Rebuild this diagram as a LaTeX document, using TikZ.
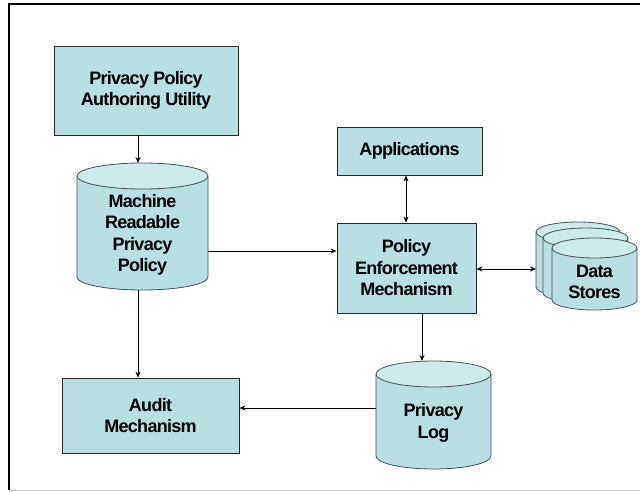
\documentclass[tikz,border=0pt]{standalone}
\usepackage{fontspec}
\setmainfont{Liberation Sans}[LetterSpace=-4]
\usetikzlibrary{arrows.meta}
\definecolor{boxfill}{RGB}{185,223,227}
\definecolor{topfill}{RGB}{205,234,237}
\definecolor{cylline}{RGB}{70,80,82}
\newcommand\drawcyl[5]{% cx, top ellipse centre y, bottom arc centre y, rx, ry
  \fill[boxfill] (#1-#4,#2) -- (#1-#4,#3) arc[start angle=180,end angle=360,x radius=#4pt,y radius=#5pt] -- (#1+#4,#2) -- cycle;
  \draw[cylline,line width=0.8pt] (#1-#4,#2) -- (#1-#4,#3) arc[start angle=180,end angle=360,x radius=#4pt,y radius=#5pt] -- (#1+#4,#2);
  \filldraw[fill=topfill,draw=cylline,line width=0.8pt] (#1,#2) ellipse[x radius=#4pt,y radius=#5pt];
}
\begin{document}
\begin{tikzpicture}[x=1pt,y=-1pt,
  lbl/.style={font=\fontsize{18}{21.5}\selectfont\bfseries,align=center,inner sep=0pt},
  box/.style={lbl,draw=black!85,fill=boxfill,line width=0.8pt},
  area/.style={inner sep=0pt,outer sep=0pt},
  arr/.style={line width=0.8pt,-{Stealth[length=6pt,width=5pt]}},
  darr/.style={line width=0.8pt,{Stealth[length=6pt,width=5pt]}-{Stealth[length=6pt,width=5pt]}}]
\useasboundingbox (0,0) rectangle (640,491);
\fill[white] (0,0) rectangle (640,491);
% frame
\draw[black!20,line width=0.8pt] (9,490) -- (640,490);
\draw[line width=1.3pt] (640,4) -- (9,4) -- (9,490);

% boxes
\node[box,minimum width=184pt,minimum height=89pt] (ppau) at (146,90.5) {Privacy Policy\\Authoring Utility};
\node[box,minimum width=145pt,minimum height=48pt] (app) at (409.5,151) {Applications};
\node[box,minimum width=139pt,minimum height=90pt] (pem) at (406.5,268) {Policy\\Enforcement\\Mechanism};
\node[box,minimum width=177pt,minimum height=75pt] (audit) at (150.5,415.5) {Audit\\Mechanism};

% cylinders
\drawcyl{142.5}{176}{277}{65.5}{13}
\node[area,minimum width=131pt,minimum height=127pt] (mrpp) at (142.5,226.5) {};
\node[lbl] (mrppt) at (142.5,235) {Machine\\Readable\\Privacy\\Policy};

\drawcyl{433.5}{374}{456}{57.5}{13}
\node[area,minimum width=115pt,minimum height=108pt] (log) at (433.5,415) {};
\node[lbl] (logt) at (433.5,423) {Privacy\\Log};

\drawcyl{578}{232}{287}{42}{10}
\drawcyl{585.5}{238}{293}{42.5}{10}
\drawcyl{594.5}{248}{300}{42.5}{10}
\node[area,minimum width=101pt,minimum height=88pt] (ds) at (586.5,266) {};
\node[lbl] (dst) at (594.5,282) {Data\\Stores};

% connectors
\draw[arr] (ppau.south -| 138,0) -- (mrpp.north -| 138,0);
\draw[arr] (mrpp.east |- 0,251) -- (pem.west |- 0,251);
\draw[darr] (app.south -| 406,0) -- (pem.north -| 406,0);
\draw[darr] (pem.east |- 0,269) -- (ds.west |- 0,269);
\draw[arr] (mrpp.south -| 138,0) -- (audit.north -| 138,0);
\draw[arr] (pem.south -| 422,0) -- (log.north -| 422,0);
\draw[arr] (log.west |- 0,408) -- (audit.east |- 0,408);
\end{tikzpicture}
\end{document}
